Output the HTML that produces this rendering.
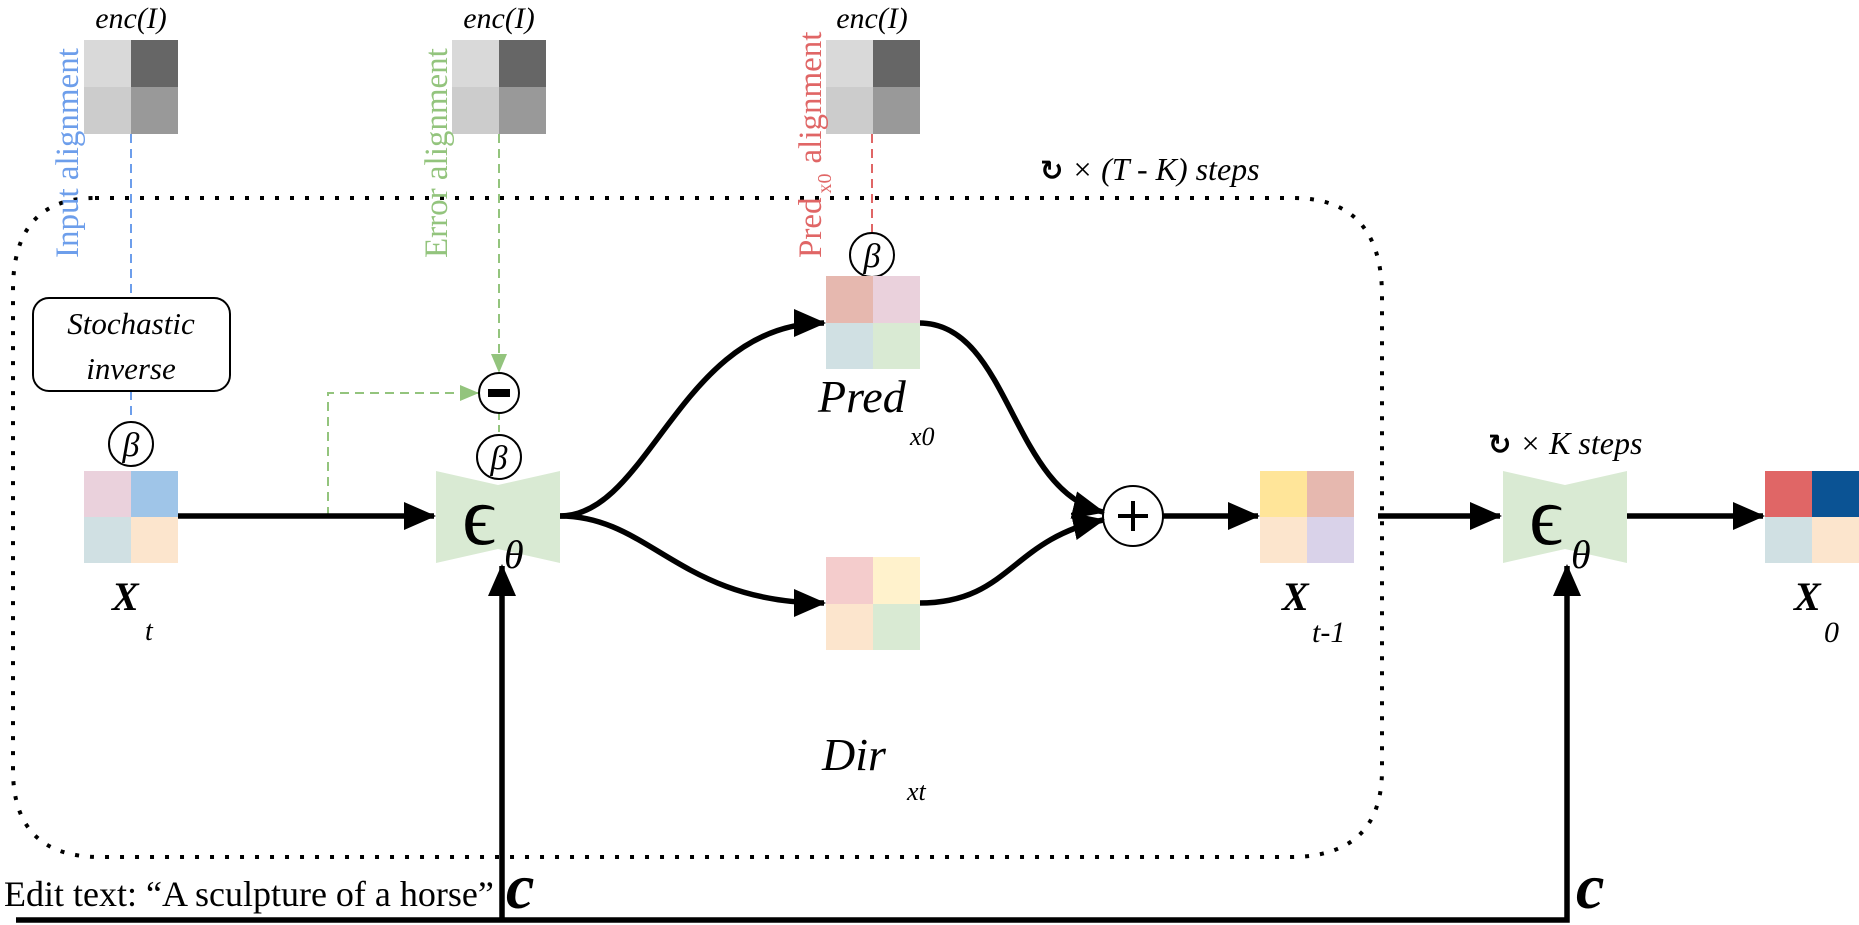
<!DOCTYPE html>
<html><head><meta charset="utf-8"><style>
html,body{margin:0;padding:0;background:#fff;}
svg{display:block;}
text{font-family:"Liberation Serif",serif;}
</style></head><body>
<svg width="1859" height="925" viewBox="0 0 1859 925" xmlns="http://www.w3.org/2000/svg">
<defs>
<marker id="ah" markerUnits="userSpaceOnUse" markerWidth="34" markerHeight="28" refX="30" refY="14" orient="auto">
<path d="M0,0 L32,14 L0,28 Z" fill="#000"/></marker>
<marker id="ag" markerUnits="userSpaceOnUse" markerWidth="20" markerHeight="16" refX="18" refY="8" orient="auto">
<path d="M0,0 L19,8 L0,16 Z" fill="#93c47d"/></marker>
</defs>

<path d="M95,198 L1293,198 Q1382,198 1382,296 L1382,770 Q1382,857 1290,857 L100,857 Q13,857 13,770 L13,290 Q13,198 95,198" fill="none" stroke="#000" stroke-width="4" stroke-dasharray="4 11"/>

<g font-size="30" font-style="italic" text-anchor="middle">
<text x="131" y="28">enc(I)</text>
<text x="499" y="28">enc(I)</text>
<text x="872" y="28">enc(I)</text>
</g>
<g>
<rect x="84" y="40" width="47" height="47" fill="#d9d9d9"/><rect x="131" y="40" width="47" height="47" fill="#666"/>
<rect x="84" y="87" width="47" height="47" fill="#ccc"/><rect x="131" y="87" width="47" height="47" fill="#999"/>
<rect x="452" y="40" width="47" height="47" fill="#d9d9d9"/><rect x="499" y="40" width="47" height="47" fill="#666"/>
<rect x="452" y="87" width="47" height="47" fill="#ccc"/><rect x="499" y="87" width="47" height="47" fill="#999"/>
<rect x="826" y="40" width="47" height="47" fill="#d9d9d9"/><rect x="873" y="40" width="47" height="47" fill="#666"/>
<rect x="826" y="87" width="47" height="47" fill="#ccc"/><rect x="873" y="87" width="47" height="47" fill="#999"/>
</g>

<text transform="translate(78,258) rotate(-90)" font-size="33" fill="#6d9eeb">Input alignment</text>
<text transform="translate(447,258) rotate(-90)" font-size="33" fill="#93c47d">Error alignment</text>
<text transform="translate(821,258) rotate(-90)" font-size="33" fill="#e06666">Pred<tspan font-size="20" dy="10" dx="4">x0</tspan><tspan dy="-10" dx="10">alignment</tspan></text>

<line x1="131" y1="134" x2="131" y2="298" stroke="#6d9eeb" stroke-width="2" stroke-dasharray="9 6"/>
<line x1="131" y1="391" x2="131" y2="422" stroke="#6d9eeb" stroke-width="2" stroke-dasharray="9 6"/>
<line x1="499" y1="134" x2="499" y2="372" stroke="#93c47d" stroke-width="2" stroke-dasharray="9 6" marker-end="url(#ag)"/>
<line x1="499" y1="413" x2="499" y2="435" stroke="#93c47d" stroke-width="2" stroke-dasharray="7 5"/>
<path d="M328,516 L328,393 L478,393" fill="none" stroke="#93c47d" stroke-width="2" stroke-dasharray="9 6" marker-end="url(#ag)"/>
<line x1="872" y1="134" x2="872" y2="233" stroke="#e06666" stroke-width="2" stroke-dasharray="9 6"/>

<rect x="33" y="298" width="197" height="93" rx="16" fill="#fff" stroke="#000" stroke-width="2"/>
<text x="131" y="334" font-size="31" font-style="italic" text-anchor="middle">Stochastic</text>
<text x="131" y="379" font-size="31" font-style="italic" text-anchor="middle">inverse</text>

<g fill="#fff" stroke="#000" stroke-width="2">
<circle cx="131" cy="444" r="22"/><circle cx="499" cy="457" r="22"/><circle cx="872" cy="255" r="22"/>
<circle cx="499" cy="393" r="20"/><circle cx="1133" cy="516" r="30"/>
</g>
<g font-size="34" font-style="italic" text-anchor="middle">
<text x="131" y="456">β</text>
<text x="499" y="469">β</text>
<text x="872" y="267">β</text>
</g>
<rect x="488" y="389" width="22" height="8" fill="#000"/>
<rect x="1118" y="514" width="30" height="4" fill="#000"/><rect x="1131" y="501" width="4" height="30" fill="#000"/>

<rect x="84" y="471" width="47" height="46" fill="#ead1dc"/><rect x="131" y="471" width="47" height="46" fill="#9fc5e8"/>
<rect x="84" y="517" width="47" height="46" fill="#d0e0e3"/><rect x="131" y="517" width="47" height="46" fill="#fce5cd"/>
<text x="112" y="610" font-size="40" font-weight="bold" font-style="italic">X</text>
<text x="145" y="640" font-size="28" font-style="italic">t</text>

<polygon points="436,471 498,485 560,471 560,563 498,549 436,563" fill="#d9ead3"/>
<text x="462" y="544" font-size="84" font-family="DejaVu Sans,sans-serif">ϵ</text>
<text x="504" y="568" font-size="40" font-style="italic" font-family="DejaVu Sans,sans-serif">θ</text>
<polygon points="1503,471 1565,485 1627,471 1627,563 1565,549 1503,563" fill="#d9ead3"/>
<text x="1529" y="544" font-size="84" font-family="DejaVu Sans,sans-serif">ϵ</text>
<text x="1571" y="568" font-size="40" font-style="italic" font-family="DejaVu Sans,sans-serif">θ</text>

<g stroke="#000" stroke-width="5.5" fill="none">
<line x1="178" y1="516" x2="434" y2="516" marker-end="url(#ah)"/>
<path d="M560,516 C650,516 680,323 824,323" marker-end="url(#ah)"/>
<path d="M560,516 C650,516 680,603 824,603" marker-end="url(#ah)"/>
<path d="M919,323 C1010,323 1010,490 1103,512" marker-end="url(#ah)"/>
<path d="M919,603 C1010,603 1010,540 1103,520" marker-end="url(#ah)"/>
<line x1="1163" y1="516" x2="1258" y2="516" marker-end="url(#ah)"/>
<line x1="1378" y1="516" x2="1500" y2="516" marker-end="url(#ah)"/>
<line x1="1627" y1="516" x2="1763" y2="516" marker-end="url(#ah)"/>
<line x1="502" y1="920" x2="502" y2="566" marker-end="url(#ah)"/>
<path d="M16,920 L1567,920 L1567,566" marker-end="url(#ah)"/>
</g>

<rect x="826" y="276" width="47" height="47" fill="#e6b8af"/><rect x="873" y="276" width="47" height="47" fill="#ead1dc"/>
<rect x="826" y="323" width="47" height="46" fill="#d0e0e3"/><rect x="873" y="323" width="47" height="46" fill="#d9ead3"/>
<text x="818" y="412" font-size="46" font-style="italic">Pred</text>
<text x="910" y="445" font-size="26" font-style="italic">x0</text>

<rect x="826" y="557" width="47" height="47" fill="#f4cccc"/><rect x="873" y="557" width="47" height="47" fill="#fff2cc"/>
<rect x="826" y="604" width="47" height="46" fill="#fce5cd"/><rect x="873" y="604" width="47" height="46" fill="#d9ead3"/>
<text x="822" y="770" font-size="46" font-style="italic">Dir</text>
<text x="907" y="800" font-size="26" font-style="italic">xt</text>

<rect x="1260" y="471" width="47" height="46" fill="#ffe599"/><rect x="1307" y="471" width="47" height="46" fill="#e6b8af"/>
<rect x="1260" y="517" width="47" height="46" fill="#fce5cd"/><rect x="1307" y="517" width="47" height="46" fill="#d9d2e9"/>
<text x="1282" y="610" font-size="40" font-weight="bold" font-style="italic">X</text>
<text x="1312" y="642" font-size="30" font-style="italic">t-1</text>

<rect x="1765" y="471" width="47" height="46" fill="#e06666"/><rect x="1812" y="471" width="47" height="46" fill="#0b5394"/>
<rect x="1765" y="517" width="47" height="46" fill="#d0e0e3"/><rect x="1812" y="517" width="47" height="46" fill="#fce5cd"/>
<text x="1794" y="610" font-size="40" font-weight="bold" font-style="italic">X</text>
<text x="1824" y="642" font-size="30" font-style="italic">0</text>

<text x="1040" y="180" font-size="32" font-style="italic"><tspan font-family="DejaVu Sans,sans-serif" font-style="normal" font-weight="bold" font-size="28">↻</tspan> × (T - K) steps</text>
<text x="1488" y="454" font-size="32" font-style="italic"><tspan font-family="DejaVu Sans,sans-serif" font-style="normal" font-weight="bold" font-size="28">↻</tspan> × K steps</text>

<text x="4" y="906" font-size="36">Edit text: “A sculpture of a horse”</text>
<text x="506" y="908" font-size="64" font-weight="bold" font-style="italic">c</text>
<text x="1576" y="908" font-size="64" font-weight="bold" font-style="italic">c</text>
</svg>
</body></html>
